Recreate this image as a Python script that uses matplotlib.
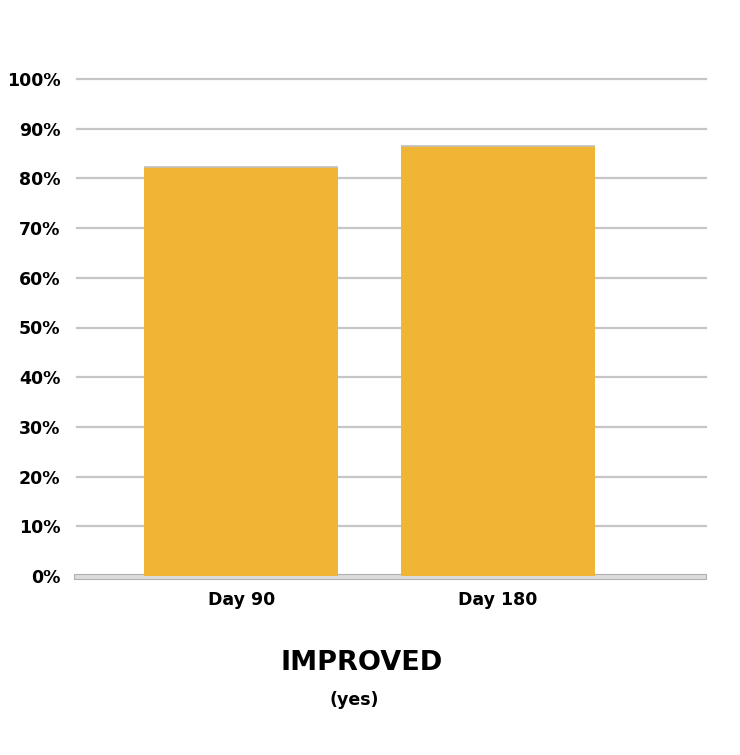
import matplotlib
matplotlib.use("Agg")
import matplotlib.pyplot as plt
from matplotlib.patches import Rectangle
import matplotlib.transforms as mtransforms

categories = ["Day 90", "Day 180"]
values = [82.3, 86.6]
yticks = [0, 10, 20, 30, 40, 50, 60, 70, 80, 90, 100]
ytick_labels = [f"{v}%" for v in yticks]
title = "IMPROVED"
subtitle = "(yes)"

plt.rcParams['font.family'] = ['DejaVu Sans']

fig = plt.figure(figsize=(7.4, 7.55), dpi=100)
ax = fig.add_axes([77/740, 1-576/755, (706-77)/740, (576-79)/755])

x = list(range(len(categories)))
ax.bar(x, values, width=0.755, color="#F0B535", edgecolor="none", zorder=3)
for xi, v in zip(x, values):
    ax.plot([xi-0.3775, xi+0.3775], [v, v], color="#c0c0c0", lw=1.2, zorder=4,
            solid_capstyle="butt")

ax.set_xlim(-0.64, 1.81)
ax.set_ylim(0, 100)

for t in yticks[1:]:
    ax.axhline(t, color="#c6c6c6", lw=1.6, zorder=1, clip_on=False)

trans = mtransforms.blended_transform_factory(fig.transFigure, ax.transData)
ax.add_patch(Rectangle((74/740, -0.6), (706-74)/740, 1.0, transform=trans,
                       facecolor="#dcdcdc", edgecolor="#b0b0b0", lw=0.8,
                       zorder=2, clip_on=False))

for s in ax.spines.values():
    s.set_visible(False)
ax.set_yticks(yticks)
ax.set_yticklabels(ytick_labels, fontsize=12.5, fontweight="bold")
ax.set_xticks(x)
ax.set_xticklabels(categories, fontsize=12.5, fontweight="bold")
ax.tick_params(axis="both", length=0)
ax.tick_params(axis="y", pad=12)
ax.tick_params(axis="x", pad=11)

fig.text(362/740, 1-663/755, title, ha="center", va="center", fontsize=19.5,
         fontweight="bold")
fig.text(354/740, 1-700/755, subtitle, ha="center", va="center", fontsize=12.5,
         fontweight="bold")

fig.savefig("out.png", dpi=100, facecolor="white")
